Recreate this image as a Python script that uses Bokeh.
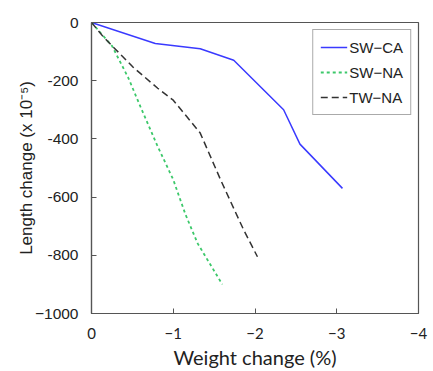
from bokeh.plotting import figure
from bokeh.models import Range1d, FixedTicker, Legend, LegendItem
from bokeh.embed import file_html
from bokeh.resources import INLINE

# Data
sw_ca_x = [0, -0.78, -1.33, -1.74, -2.35, -2.55, -3.07]
sw_ca_y = [0, -72, -90, -130, -300, -418, -570]

sw_na_x = [0, -0.25, -0.45, -0.6, -0.8, -1.0, -1.15, -1.3, -1.45, -1.6]
sw_na_y = [0, -80, -190, -290, -420, -540, -660, -760, -830, -900]

tw_na_x = [0, -0.15, -0.51, -0.81, -1.0, -1.17, -1.33, -1.58, -1.86, -2.03]
tw_na_y = [0, -51, -154, -226, -267, -325, -380, -541, -712, -805]

x_ticks = [0, -1, -2, -3, -4]
x_tick_labels = ["0", "−1", "−2", "−3", "−4"]
y_ticks = [0, -200, -400, -600, -800, -1000]
y_tick_labels = ["0", "-200", "-400", "-600", "-800", "−1000"]

p = figure(width=433, height=371, output_backend="svg", toolbar_location=None,
           x_range=Range1d(0, -4), y_range=Range1d(-1000, 0))
p.min_border_left = 91
p.min_border_right = 15
p.min_border_top = 22
p.min_border_bottom = 57
p.grid.visible = False
p.outline_line_color = "#555555"
p.outline_line_width = 1.2
p.background_fill_color = "white"
p.border_fill_color = "white"

r1 = p.line(sw_ca_x, sw_ca_y, line_color="#3a3aff", line_width=1.5)
r2 = p.line(sw_na_x, sw_na_y, line_color="#3cc86a", line_width=1.8, line_dash="3 3")
r3 = p.line(tw_na_x, tw_na_y, line_color="#333333", line_width=1.5, line_dash="7 4")

for ax in (p.xaxis[0], p.yaxis[0]):
    ax.major_tick_in = 5
    ax.major_tick_out = 0
    ax.minor_tick_in = 0
    ax.minor_tick_out = 0
    ax.axis_line_color = "#555555"
    ax.axis_line_width = 1.2
    ax.major_tick_line_color = "#555555"
    ax.major_label_text_color = "#222222"
    ax.axis_label_text_color = "#222222"
    ax.axis_label_text_font_style = "normal"

p.xaxis.ticker = FixedTicker(ticks=x_ticks)
p.xaxis.major_label_overrides = dict(zip(x_ticks, x_tick_labels))
p.xaxis.major_label_text_font = "Lato"
p.xaxis.major_label_text_font_size = "15px"
p.xaxis.major_label_standoff = 14
p.xaxis.axis_label = "Weight change (%)"
p.xaxis.axis_label_text_font = "Lato"
p.xaxis.axis_label_text_font_size = "20px"
p.xaxis.axis_label_standoff = 3

p.yaxis.ticker = FixedTicker(ticks=y_ticks)
p.yaxis.major_label_overrides = dict(zip(y_ticks, y_tick_labels))
p.yaxis.major_label_text_font = "Liberation Sans"
p.yaxis.major_label_text_font_size = "15.5px"
p.yaxis.major_label_standoff = 13
p.yaxis.axis_label = "Length change (x 10⁻⁵)"
p.yaxis.axis_label_text_font = "Liberation Sans"
p.yaxis.axis_label_text_font_size = "17px"
p.yaxis.axis_label_standoff = -4

legend = Legend(items=[LegendItem(label="SW−CA", renderers=[r1]),
                       LegendItem(label="SW−NA", renderers=[r2]),
                       LegendItem(label="TW−NA", renderers=[r3])],
                location="top_right")
legend.label_text_font = "Liberation Sans"
legend.label_text_font_size = "15px"
legend.label_text_color = "#222222"
legend.glyph_width = 27
legend.glyph_height = 20
legend.label_height = 20
legend.spacing = 5
legend.padding = 7
legend.margin = 7
legend.border_line_color = "#555555"
legend.border_line_width = 1.2
legend.label_standoff = 2
p.add_layout(legend)

open("out.html", "w").write(file_html(p, INLINE))
